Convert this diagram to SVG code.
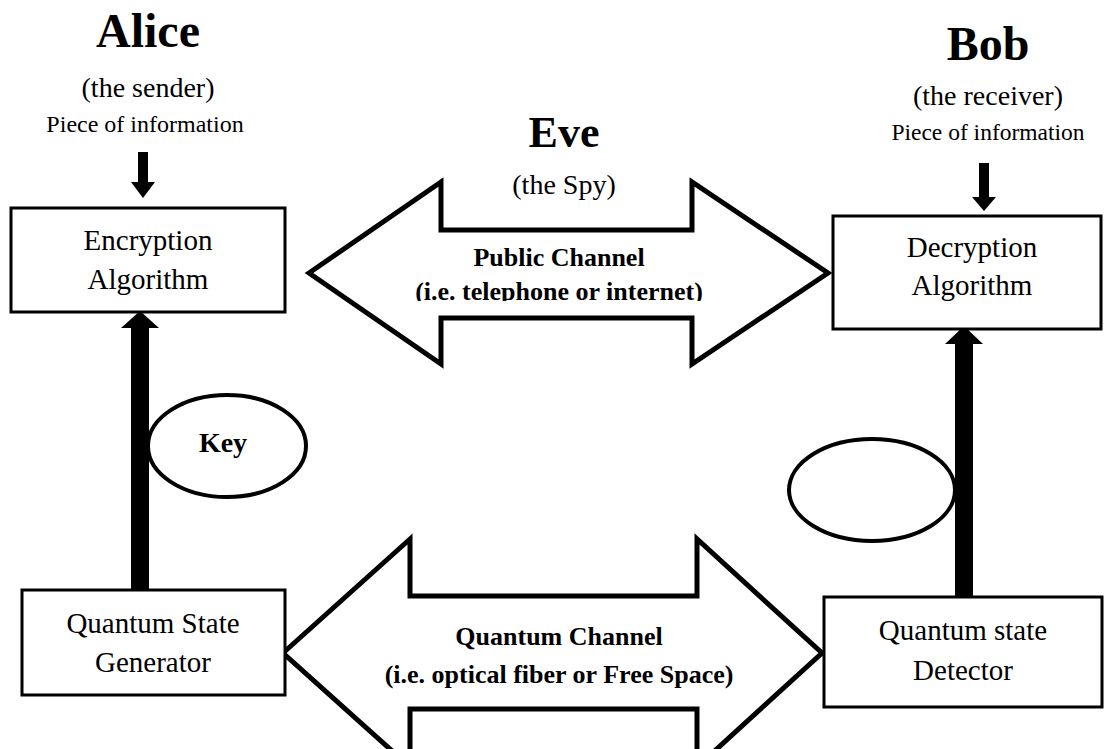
<svg xmlns="http://www.w3.org/2000/svg" width="1104" height="749" viewBox="0 0 1104 749">
  <defs>
    <style>
      text { font-family: "Liberation Serif", "Times New Roman", serif; fill: #000; text-anchor: middle; }
      .title { font-size: 48px; font-weight: bold; }
      .sub { font-size: 28px; }
      .info { font-size: 24px; }
      .box { fill: #fff; stroke: #000; stroke-width: 3; }
      .lbl { font-size: 29px; }
      .chan { fill: #fff; stroke: #000; stroke-width: 5; stroke-linejoin: miter; }
      .chanlbl { font-size: 26px; font-weight: bold; }
      .ell { fill: #fff; stroke: #000; stroke-width: 4; }
      .solid { fill: #000; stroke: none; }
    </style>
    <clipPath id="pubclip">
      <rect x="300" y="180" width="540" height="121"/>
    </clipPath>
  </defs>
  <rect x="0" y="0" width="1104" height="749" fill="#fff"/>

  <g id="alice-label">
    <text class="title" x="148" y="47">Alice</text>
    <text class="sub" x="148" y="97">(the sender)</text>
    <text class="info" x="145" y="132">Piece of information</text>
  </g>

  <g id="bob-label">
    <text class="title" x="988" y="60">Bob</text>
    <text class="sub" x="988" y="105">(the receiver)</text>
    <text class="info" x="988" y="140" style="font-size:23.5px">Piece of information</text>
  </g>

  <g id="eve-label">
    <text class="title" x="564" y="147" style="font-size:44px">Eve</text>
    <text class="sub" x="564" y="194">(the Spy)</text>
  </g>

  <g id="connectors">
    <!-- small input arrows -->
    <rect class="solid" x="138" y="152" width="10" height="31"/>
    <polygon class="solid" points="131,182 155,182 143,198"/>
    <rect class="solid" x="979" y="163" width="10" height="35"/>
    <polygon class="solid" points="972,197 996,197 984,211"/>
    <!-- thick key arrows -->
    <rect class="solid" x="131" y="326" width="18" height="267"/>
    <polygon class="solid" points="121,328 159,328 140,311"/>
    <rect class="solid" x="955" y="343" width="18" height="257"/>
    <polygon class="solid" points="945,344 983,344 964,326"/>
  </g>

  <g id="public-channel">
    <polygon class="chan" points="309,273 441,182 441,230 692,230 692,182 828,273 692,364 692,318 441,318 441,364"/>
    <text class="chanlbl" x="559" y="266">Public Channel</text>
    <text class="chanlbl" x="559" y="300" clip-path="url(#pubclip)">(i.e. telephone or internet)</text>
  </g>

  <g id="quantum-channel">
    <polygon class="chan" points="283,653 410,539 410,596 697,596 697,539 822,653 697,767 697,709 410,709 410,767"/>
    <text class="chanlbl" x="559" y="645">Quantum Channel</text>
    <text class="chanlbl" x="559" y="683">(i.e. optical fiber or Free Space)</text>
  </g>

  <g id="encryption">
    <rect class="box" x="11" y="208" width="274" height="104"/>
    <text class="lbl" x="148" y="250">Encryption</text>
    <text class="lbl" x="148" y="289">Algorithm</text>
  </g>

  <g id="decryption">
    <rect class="box" x="833" y="216" width="268" height="113"/>
    <text class="lbl" x="972" y="257">Decryption</text>
    <text class="lbl" x="972" y="295">Algorithm</text>
  </g>

  <g id="key">
    <ellipse class="ell" cx="227" cy="446" rx="79" ry="51"/>
    <text class="lbl" x="223" y="452" style="font-weight:bold;font-size:28px">Key</text>
  </g>

  <g id="bob-key">
    <ellipse class="ell" cx="872" cy="490" rx="83" ry="51"/>
  </g>

  <g id="generator">
    <rect class="box" x="22" y="590" width="263" height="105"/>
    <text class="lbl" x="153" y="633">Quantum State</text>
    <text class="lbl" x="153" y="672">Generator</text>
  </g>

  <g id="detector">
    <rect class="box" x="824" y="597" width="278" height="110"/>
    <text class="lbl" x="963" y="640">Quantum state</text>
    <text class="lbl" x="963" y="680">Detector</text>
  </g>
</svg>
